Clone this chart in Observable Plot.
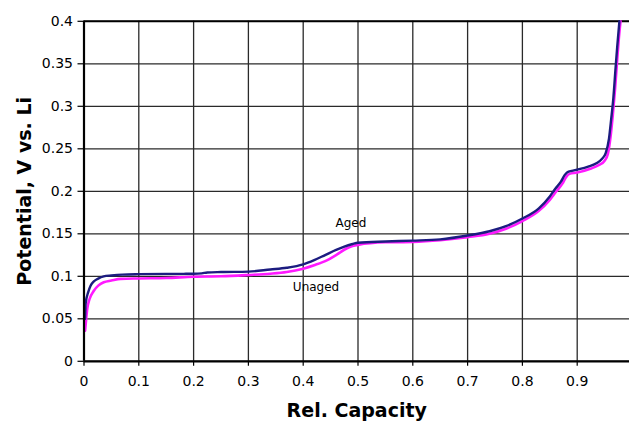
<!DOCTYPE html>
<html>
<head>
<meta charset="utf-8">
<script src="https://cdn.jsdelivr.net/npm/d3@7"></script>
<script src="https://cdn.jsdelivr.net/npm/@observablehq/plot@0.6"></script>
<style>
  html, body { margin: 0; padding: 0; background: #fff; overflow: hidden; }
  #chart svg { overflow: hidden; display: block; }
</style>
</head>
<body>
<div id="chart"></div>
<script>
// ---- data ----
const agedX = [0.002,0.003,0.008,0.012,0.018,0.025,0.036,0.05,0.07,0.1,0.15,0.2,0.215,0.225,0.25,0.3,0.34,0.37,0.4,0.42,0.44,0.46,0.475,0.49,0.5,0.55,0.6,0.65,0.7,0.74,0.77,0.8,0.83,0.85,0.86,0.87,0.877,0.882,0.89,0.9,0.92,0.935,0.945,0.952,0.958,0.962,0.966,0.97,0.973,0.977];
const agedY = [0.050,0.068,0.082,0.089,0.094,0.097,0.100,0.101,0.102,0.1025,0.1028,0.103,0.1035,0.1045,0.105,0.1055,0.108,0.110,0.114,0.119,0.125,0.131,0.135,0.138,0.1395,0.141,0.142,0.1435,0.148,0.153,0.159,0.168,0.180,0.194,0.203,0.211,0.219,0.2225,0.224,0.2255,0.229,0.233,0.238,0.245,0.262,0.285,0.31,0.345,0.37,0.4];

const unagedX = [0.002,0.004,0.006,0.01,0.018,0.026,0.036,0.05,0.067,0.1,0.15,0.2,0.25,0.3,0.34,0.37,0.4,0.42,0.444,0.46,0.48,0.49,0.5,0.55,0.6,0.65,0.7,0.74,0.77,0.8,0.83,0.85,0.862,0.873,0.88,0.886,0.9,0.924,0.94,0.95,0.956,0.961,0.965,0.969,0.973,0.976,0.979];
const unagedY = [0.036,0.05,0.062,0.073,0.083,0.089,0.093,0.095,0.097,0.0975,0.098,0.0995,0.1,0.1015,0.103,0.105,0.109,0.113,0.119,0.125,0.133,0.1355,0.137,0.140,0.1405,0.1425,0.146,0.150,0.156,0.165,0.177,0.190,0.200,0.209,0.217,0.2205,0.222,0.2265,0.231,0.236,0.244,0.265,0.29,0.32,0.355,0.38,0.4];

const xTicks = [0,0.1,0.2,0.3,0.4,0.5,0.6,0.7,0.8,0.9];
const xGrid = [0.1,0.2,0.3,0.4,0.5,0.6,0.7,0.8,0.9,1.0];
const yTicks = [0,0.05,0.1,0.15,0.2,0.25,0.3,0.35,0.4];

const labelText = ["Aged","Unaged"];
const labelX = [0.487,0.4234];
const labelY = [0.163,0.0873];

const xTitle = "Rel. Capacity";
const yTitle = "Potential, V vs. Li";

// ---- build tables ----
const aged = agedX.map((x,i)=>({x, y: agedY[i]}));
const unaged = unagedX.map((x,i)=>({x, y: unagedY[i]}));
const labels = labelText.map((t,i)=>({t, x: labelX[i], y: labelY[i]}));

const fmt = d => String(+d.toFixed(2));

const chart = Plot.plot({
  width: 629,
  height: 423,
  marginTop: 20.8,
  marginBottom: 62.2,
  marginLeft: 83.5,
  marginRight: 0,
  style: {fontFamily: "'DejaVu Sans', sans-serif", fontSize: "14px", color: "#000", background: "#fff"},
  x: {domain: [0, 1], range: [83.5, 631.5]},
  y: {domain: [0, 0.4]},
  marks: [
    Plot.gridX(xGrid, {stroke: "#2a2a2a", strokeOpacity: 1, strokeWidth: 1.3}),
    Plot.gridY(yTicks, {stroke: "#2a2a2a", strokeOpacity: 1, strokeWidth: 1.3}),
    Plot.ruleY([0.4], {stroke: "#000", strokeWidth: 2}),
    Plot.axisY(yTicks, {tickFormat: fmt, tickSize: 6, tickPadding: 5, label: null, fontSize: 14, stroke: "#000", strokeWidth: 1.2, fill: "#000"}),
    Plot.axisX(xTicks, {tickFormat: fmt, tickSize: 5, tickPadding: 10, label: null, fontSize: 14, stroke: "#000", strokeWidth: 1.2, fill: "#000"}),
    Plot.line(unaged, {x: "x", y: "y", stroke: "#ff1aff", strokeWidth: 2.6, curve: "monotone-x"}),
    Plot.line(aged, {x: "x", y: "y", stroke: "#1c1c80", strokeWidth: 2.4, curve: "monotone-x"}),
    Plot.ruleX([0], {stroke: "#000", strokeWidth: 2.2}),
    Plot.ruleY([0], {stroke: "#000", strokeWidth: 2.2}),
    Plot.text(labels, {x: "x", y: "y", text: "t", fontSize: 12, fill: "#000", lineAnchor: "middle"}),
    Plot.text([xTitle], {frameAnchor: "bottom", dy: 50, fontSize: 19, fontWeight: "bold", fill: "#000", textAnchor: "middle", lineAnchor: "middle"}),
    Plot.text([yTitle], {frameAnchor: "left", dx: -59, rotate: -90, fontSize: 19, fontWeight: "bold", fill: "#000", textAnchor: "middle", lineAnchor: "middle"})
  ]
});
document.getElementById("chart").appendChild(chart);
</script>
</body>
</html>
